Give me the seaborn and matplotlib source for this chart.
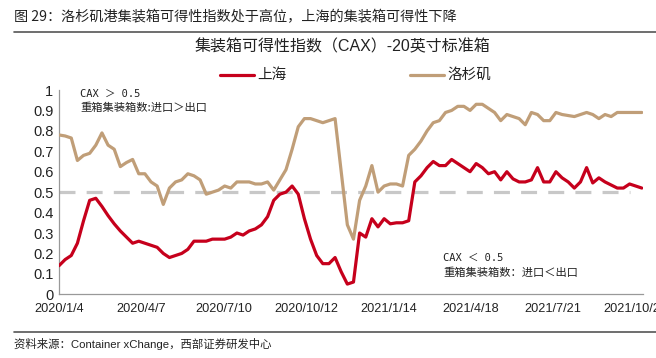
import matplotlib
matplotlib.use("Agg")
import matplotlib.pyplot as plt
import seaborn as sns
import pandas as pd
from matplotlib.lines import Line2D

start_date = "2020-01-04"
n_weeks = 96

shanghai = [0.14, 0.17, 0.19, 0.25, 0.36, 0.46, 0.47, 0.43, 0.385, 0.345,
            0.31, 0.28, 0.25, 0.26, 0.25, 0.24, 0.23, 0.20, 0.18, 0.19,
            0.20, 0.22, 0.26, 0.26, 0.26, 0.27, 0.27, 0.27, 0.28, 0.30,
            0.29, 0.31, 0.32, 0.34, 0.38, 0.46, 0.49, 0.50, 0.53, 0.49,
            0.37, 0.27, 0.19, 0.15, 0.15, 0.18, 0.11, 0.05, 0.06, 0.30,
            0.28, 0.37, 0.33, 0.37, 0.345, 0.35, 0.35, 0.36, 0.55, 0.58,
            0.62, 0.65, 0.63, 0.63, 0.66, 0.64, 0.62, 0.60, 0.64, 0.62,
            0.59, 0.60, 0.56, 0.60, 0.565, 0.55, 0.55, 0.56, 0.62, 0.55,
            0.55, 0.60, 0.57, 0.55, 0.52, 0.55, 0.62, 0.545, 0.57, 0.55,
            0.535, 0.52, 0.52, 0.54, 0.53, 0.52]

los_angeles = [0.78, 0.775, 0.765, 0.655, 0.68, 0.69, 0.73, 0.79, 0.73, 0.71,
               0.625, 0.645, 0.66, 0.59, 0.59, 0.55, 0.53, 0.44, 0.52, 0.55,
               0.56, 0.59, 0.58, 0.56, 0.49, 0.50, 0.51, 0.53, 0.52, 0.55,
               0.55, 0.55, 0.54, 0.54, 0.55, 0.51, 0.56, 0.61, 0.71, 0.82,
               0.86, 0.86, 0.85, 0.84, 0.85, 0.86, 0.60, 0.34, 0.27, 0.46,
               0.53, 0.63, 0.50, 0.53, 0.54, 0.54, 0.53, 0.68, 0.71, 0.75,
               0.80, 0.84, 0.85, 0.89, 0.90, 0.92, 0.92, 0.90, 0.93, 0.93,
               0.91, 0.89, 0.85, 0.88, 0.87, 0.86, 0.83, 0.89, 0.88, 0.85,
               0.85, 0.89, 0.88, 0.875, 0.87, 0.88, 0.89, 0.88, 0.86, 0.88,
               0.87, 0.89, 0.89, 0.89, 0.89, 0.89]

threshold = 0.5
threshold_weeks = 94

x_tick_labels = ["2020/1/4", "2020/4/7", "2020/7/10", "2020/10/12",
                 "2021/1/14", "2021/4/18", "2021/7/21", "2021/10/23"]
y_ticks = [0, 0.1, 0.2, 0.3, 0.4, 0.5, 0.6, 0.7, 0.8, 0.9, 1.0]
y_tick_labels = ["0", "0.1", "0.2", "0.3", "0.4", "0.5", "0.6", "0.7", "0.8", "0.9", "1"]

dates = pd.date_range(start_date, periods=n_weeks, freq="7D")
df = pd.DataFrame({"date": dates, "上海": shanghai, "洛杉矶": los_angeles})
long = df.melt(id_vars="date", var_name="城市", value_name="CAX")

sns.set_style("white")
plt.rcParams["font.family"] = ["Liberation Sans", "Noto Sans CJK SC", "DejaVu Sans"]

RED = "#C6001C"
GOLD = "#C09E78"
TXT = "#222222"

fig = plt.figure(figsize=(6.56, 3.58), dpi=100)
ax = fig.add_axes([59 / 656, 1 - 294.3 / 358, 583.7 / 656, 204.3 / 358])

# threshold dashed line
ax.plot(dates[:threshold_weeks], [threshold] * threshold_weeks, color="#C8C8C8",
        lw=2.3, dashes=(5, 3.5), zorder=1)

sns.lineplot(data=long, x="date", y="CAX", hue="城市",
             palette={"上海": RED, "洛杉矶": GOLD}, linewidth=2.3, ax=ax,
             legend=False, zorder=3)

ax.set_ylim(0, 1)
ax.set_xlim(pd.Timestamp(start_date), pd.Timestamp(start_date) + pd.Timedelta(days=666))
tick_dates = [pd.Timestamp(start_date) + pd.Timedelta(days=94 * i) for i in range(len(x_tick_labels))]
ax.set_xticks(tick_dates)
ax.set_xticklabels(x_tick_labels, fontsize=9.2, color=TXT)
ax.set_yticks(y_ticks)
ax.set_yticklabels(y_tick_labels, fontsize=10.5, color=TXT)
ax.tick_params(axis="both", direction="in", length=4, width=0.8, color="#999999", pad=4)
ax.tick_params(axis="x", pad=6)
ax.set_xlabel("")
ax.set_ylabel("")
for s in ["top", "right"]:
    ax.spines[s].set_visible(False)
for s in ["left", "bottom"]:
    ax.spines[s].set_color("#999999")
    ax.spines[s].set_linewidth(0.9)

# legend drawn manually to match placement
fig.add_artist(Line2D([220 / 656, 254 / 656], [1 - 75 / 358] * 2, color=RED, lw=2.3))
fig.text(257 / 656, 1 - 75 / 358, "上海", fontsize=10.5, color=TXT, va="center",
         family=["Noto Sans CJK SC"])
fig.add_artist(Line2D([410 / 656, 444 / 656], [1 - 75 / 358] * 2, color=GOLD, lw=2.3))
fig.text(447 / 656, 1 - 75 / 358, "洛杉矶", fontsize=10.5, color=TXT, va="center",
         family=["Noto Sans CJK SC"])

# annotations
fig.text(80 / 656, 1 - 94 / 358, "CAX ＞ 0.5", fontsize=7.5, color=TXT, va="center",
         family=["DejaVu Sans Mono", "Noto Sans CJK SC"])
fig.text(80 / 656, 1 - 108 / 358, "重箱集装箱数:进口＞出口", fontsize=8.1, color=TXT,
         va="center", family=["Noto Sans CJK SC"])
fig.text(443 / 656, 1 - 258 / 358, "CAX ＜ 0.5", fontsize=7.5, color=TXT, va="center",
         family=["DejaVu Sans Mono", "Noto Sans CJK SC"])
fig.text(443 / 656, 1 - 273 / 358, "重箱集装箱数：进口＜出口", fontsize=8.1, color=TXT,
         va="center", family=["Noto Sans CJK SC"])

# titles and rules
fig.text(14 / 656, 1 - 17 / 358, "图 29：洛杉矶港集装箱可得性指数处于高位，上海的集装箱可得性下降",
         fontsize=10.2, color=TXT, va="center", family=["Noto Sans CJK SC"])
fig.add_artist(Line2D([14 / 656, 1.0], [1 - 32 / 358] * 2, color="#555555", lw=1.2))
fig.text(342 / 656, 1 - 47 / 358, "集装箱可得性指数（CAX）-20英寸标准箱", fontsize=11.5,
         color=TXT, va="center", ha="center",
         family=["Liberation Sans", "Noto Sans CJK SC"])
fig.add_artist(Line2D([14 / 656, 1.0], [1 - 332 / 358] * 2, color="#555555", lw=1.2))
fig.text(14 / 656, 1 - 344 / 358, "资料来源：Container xChange，西部证券研发中心", fontsize=8.2,
         color=TXT, va="center", family=["Liberation Sans", "Noto Sans CJK SC"])

fig.savefig("out.png", dpi=100)
